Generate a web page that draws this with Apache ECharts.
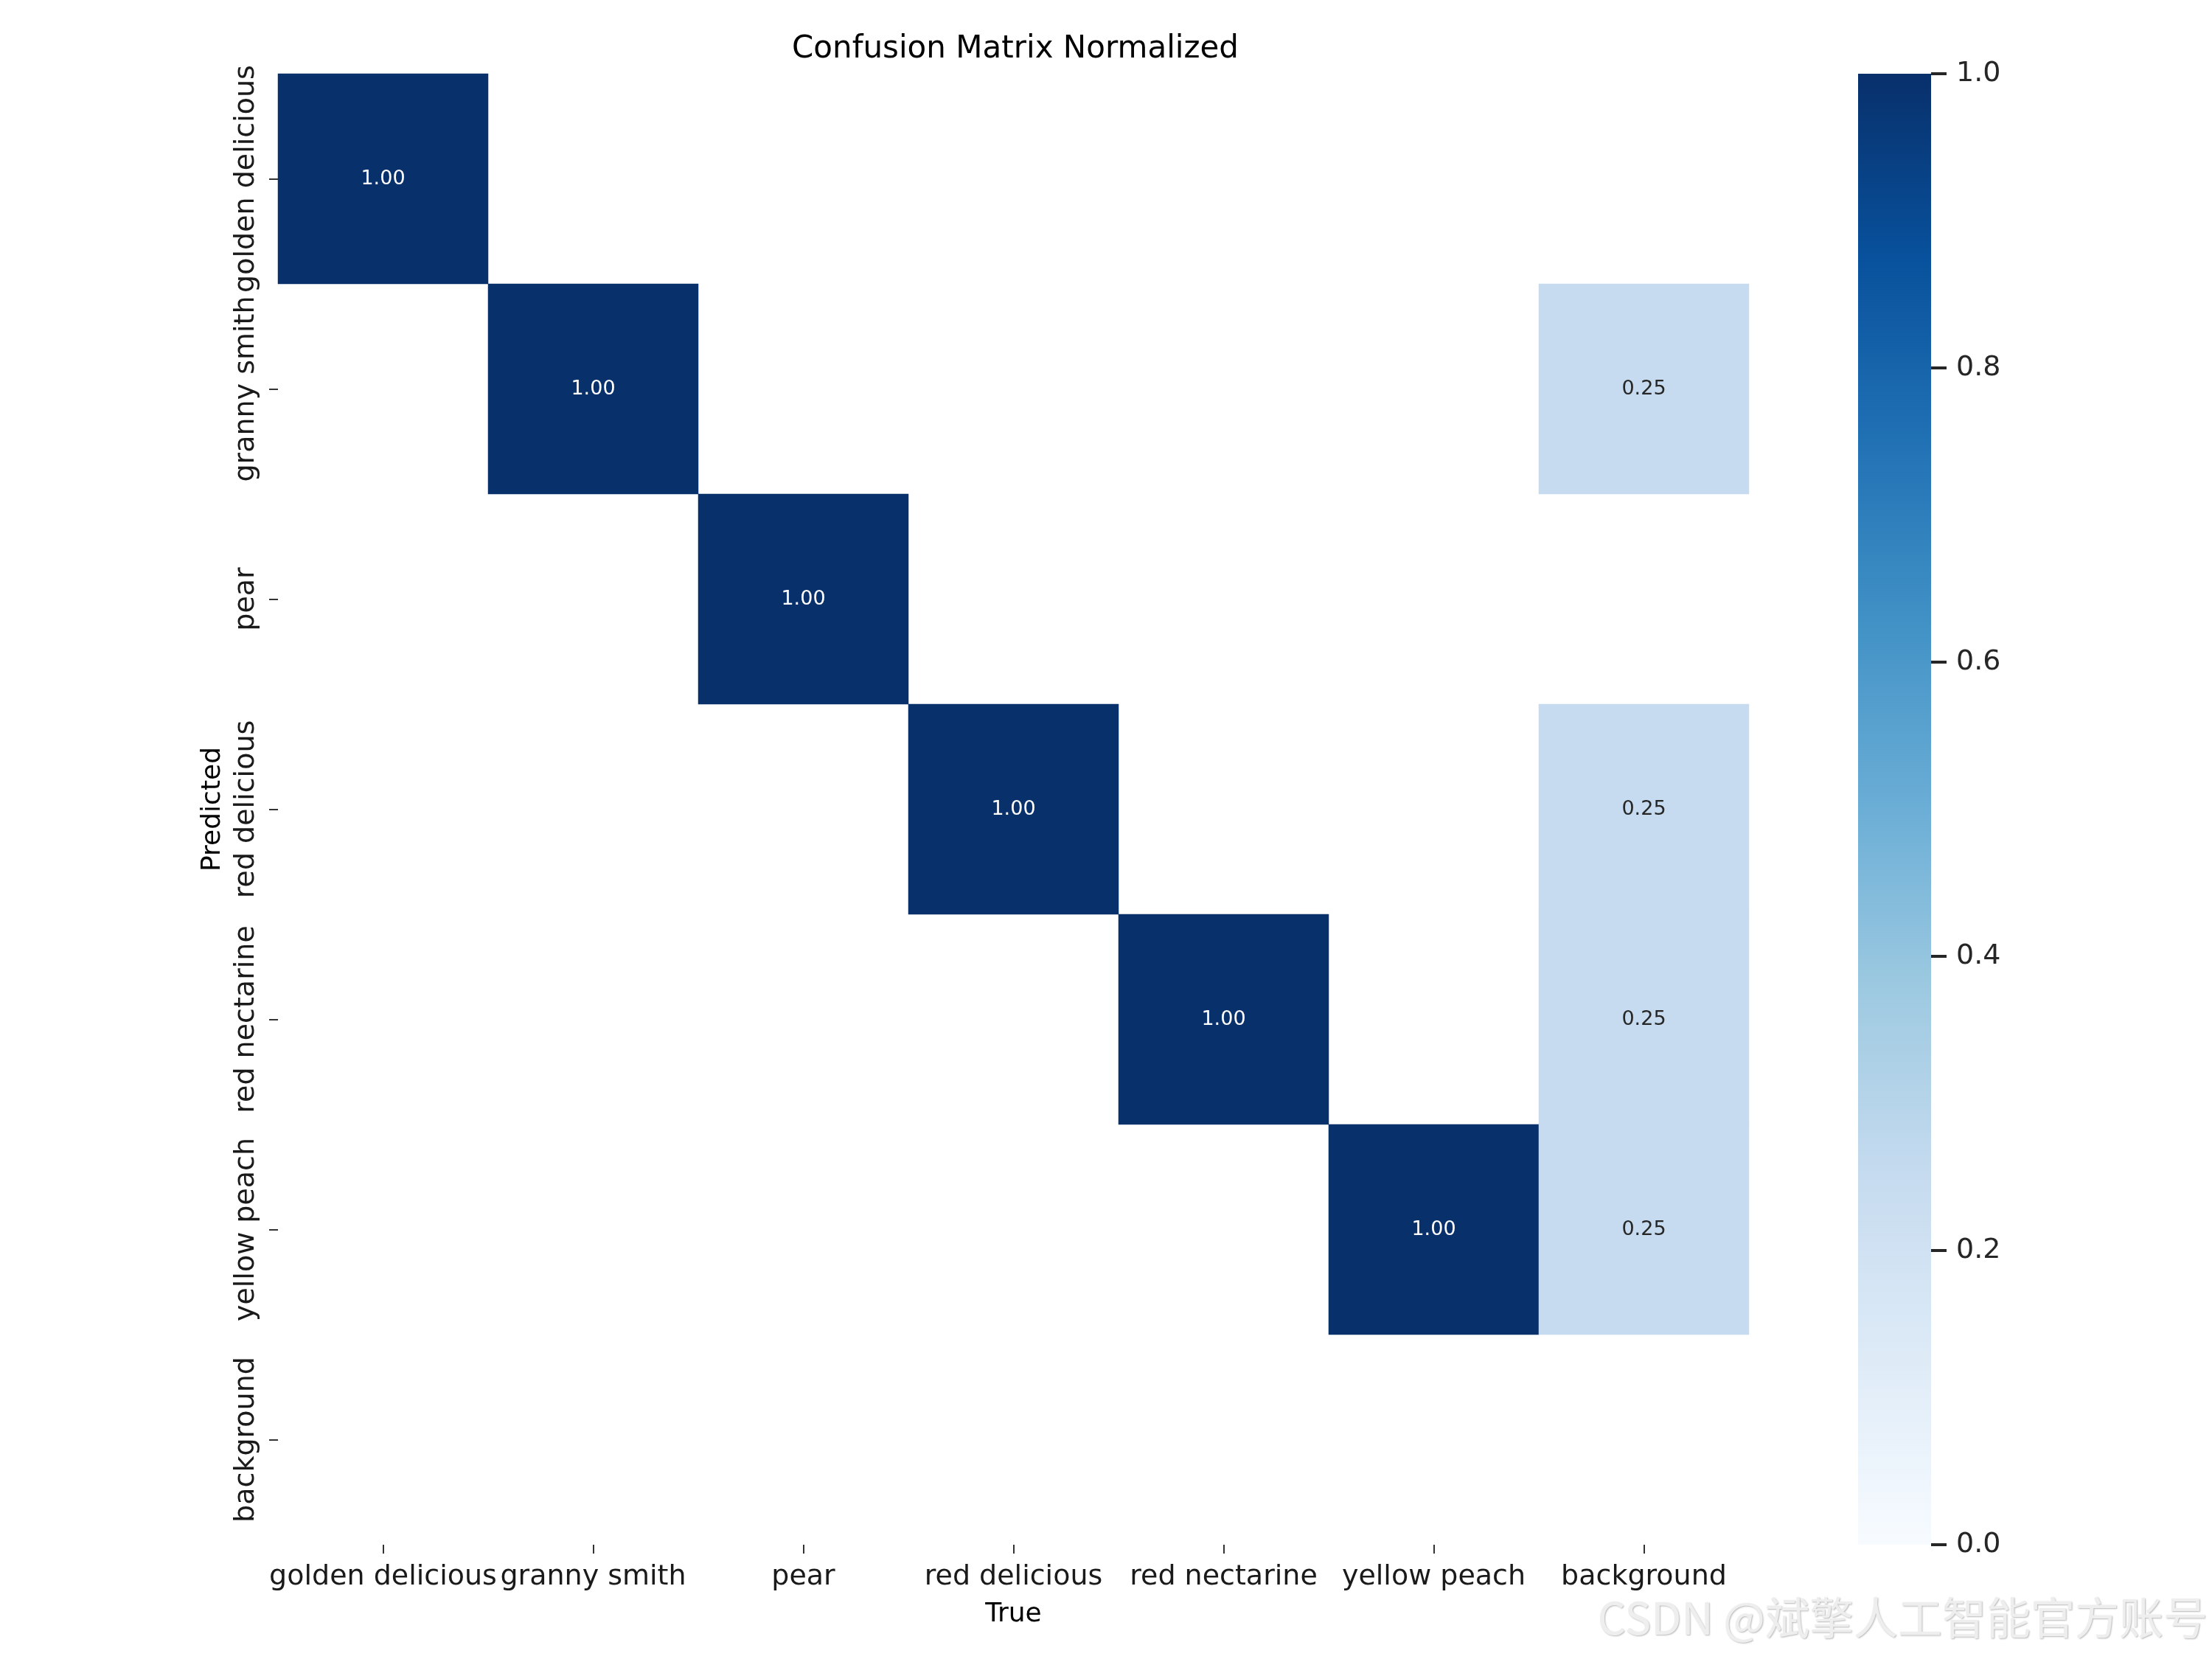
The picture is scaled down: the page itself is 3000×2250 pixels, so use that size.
<!DOCTYPE html>
<html>
<head>
<meta charset="utf-8">
<script src="https://cdn.jsdelivr.net/npm/echarts@6/dist/echarts.min.js"></script>
<style>
html,body{margin:0;padding:0;background:#fff;}
#chart{width:3000px;height:2250px;}
</style>
</head>
<body>
<div id="chart"></div>
<script>
// ---- data ----
const trueLabels = ['golden delicious', 'granny smith', 'pear', 'red delicious', 'red nectarine', 'yellow peach', 'background'];
const predictedLabels = ['golden delicious', 'granny smith', 'pear', 'red delicious', 'red nectarine', 'yellow peach', 'background'];
// rows = predicted class, columns = true class
const rowGoldenDelicious = [1.00, 0, 0, 0, 0, 0, 0];
const rowGrannySmith     = [0, 1.00, 0, 0, 0, 0, 0.25];
const rowPear            = [0, 0, 1.00, 0, 0, 0, 0];
const rowRedDelicious    = [0, 0, 0, 1.00, 0, 0, 0.25];
const rowRedNectarine    = [0, 0, 0, 0, 1.00, 0, 0.25];
const rowYellowPeach     = [0, 0, 0, 0, 0, 1.00, 0.25];
const rowBackground      = [0, 0, 0, 0, 0, 0, 0];
const colorbarTicks = [0.0, 0.2, 0.4, 0.6, 0.8, 1.0];
const bluesStops = ['#f7fbff', '#deebf7', '#c6dbef', '#9ecae1', '#6baed6', '#4292c6', '#2171b5', '#08519c', '#08306b'];

const matrix = [rowGoldenDelicious, rowGrannySmith, rowPear, rowRedDelicious, rowRedNectarine, rowYellowPeach, rowBackground];

const heatData = [];
matrix.forEach((row, yi) => {
  row.forEach((v, xi) => {
    if (v >= 0.005) {
      heatData.push({
        value: [xi, yi, v],
        label: { color: v > 0.5 ? '#ffffff' : '#262626' }
      });
    }
  });
});

const FONT = 'DejaVu Sans';
const TXT = '#1a1a1a';

const chart = echarts.init(document.getElementById('chart'), null, { renderer: 'canvas' });

const gradStops = bluesStops.slice().reverse().map((c, i, arr) => ({ offset: i / (arr.length - 1), color: c }));

chart.setOption({
  animation: false,
  backgroundColor: '#ffffff',
  title: {
    text: 'Confusion Matrix Normalized',
    left: 1372, textAlign: 'center',
    top: 41,
    textStyle: { fontFamily: FONT, fontSize: 42, fontWeight: 'normal', color: '#000' }
  },
  grid: [
    { left: 377, top: 100, width: 1995, height: 1995 },
    { left: 2520, top: 100, width: 99, height: 1995 }
  ],
  xAxis: [
    {
      gridIndex: 0, type: 'category', data: trueLabels, position: 'bottom',
      name: 'True', nameLocation: 'middle', nameGap: 77,
      nameTextStyle: { fontFamily: FONT, fontSize: 36, color: '#000' },
      axisLine: { show: false },
      axisTick: { show: true, alignWithLabel: true, interval: 0, length: 12, lineStyle: { color: '#333', width: 2 } },
      axisLabel: { interval: 0, margin: 25, fontFamily: FONT, fontSize: 38, color: TXT, hideOverlap: false },
      splitLine: { show: false }
    },
    {
      gridIndex: 1, type: 'category', data: ['cb'], show: false
    }
  ],
  yAxis: [
    {
      gridIndex: 0, type: 'category', data: predictedLabels, inverse: true,
      name: 'Predicted', nameLocation: 'middle', nameGap: 70, nameRotate: 90,
      nameTextStyle: { fontFamily: FONT, fontSize: 36, color: '#000' },
      axisLine: { show: false },
      axisTick: { show: true, alignWithLabel: true, interval: 0, length: 12, lineStyle: { color: '#333', width: 2 } },
      axisLabel: { interval: 0, rotate: 90, margin: 24, fontFamily: FONT, fontSize: 38, color: TXT, hideOverlap: false },
      splitLine: { show: false }
    },
    {
      gridIndex: 1, type: 'value', min: 0, max: 1, interval: 0.2, position: 'right',
      axisLine: { show: false },
      axisTick: { show: true, length: 21, lineStyle: { color: '#262626', width: 4 } },
      axisLabel: { margin: 34, fontFamily: FONT, fontSize: 38, color: '#262626',
        formatter: v => colorbarTicks.find(t => Math.abs(t - v) < 1e-9) !== undefined ? v.toFixed(1) : '' },
      splitLine: { show: false }
    }
  ],
  visualMap: {
    type: 'continuous', show: false, min: 0, max: 1, seriesIndex: 0,
    inRange: { color: bluesStops }
  },
  series: [
    {
      type: 'heatmap', xAxisIndex: 0, yAxisIndex: 0,
      data: heatData,
      label: {
        show: true, fontFamily: FONT, fontSize: 27,
        formatter: p => p.value[2].toFixed(2)
      },
      emphasis: { disabled: true },
      silent: true
    },
    {
      type: 'bar', xAxisIndex: 1, yAxisIndex: 1,
      data: [colorbarTicks[colorbarTicks.length - 1]],
      barWidth: '100%', barCategoryGap: 0,
      itemStyle: { color: { type: 'linear', x: 0, y: 0, x2: 0, y2: 1, colorStops: gradStops } },
      silent: true, emphasis: { disabled: true }
    }
  ],
  graphic: [
    {
      type: 'text', right: 6, top: 2164,
      style: {
        text: 'CSDN @斌擎人工智能官方账号',
        fontFamily: 'Noto Sans CJK SC', fontSize: 60,
        fill: '#eeeeee',
        textShadowColor: 'rgba(0,0,0,0.28)', textShadowBlur: 2, textShadowOffsetX: 1, textShadowOffsetY: 1
      },
      silent: true
    }
  ]
});
</script>
</body>
</html>
